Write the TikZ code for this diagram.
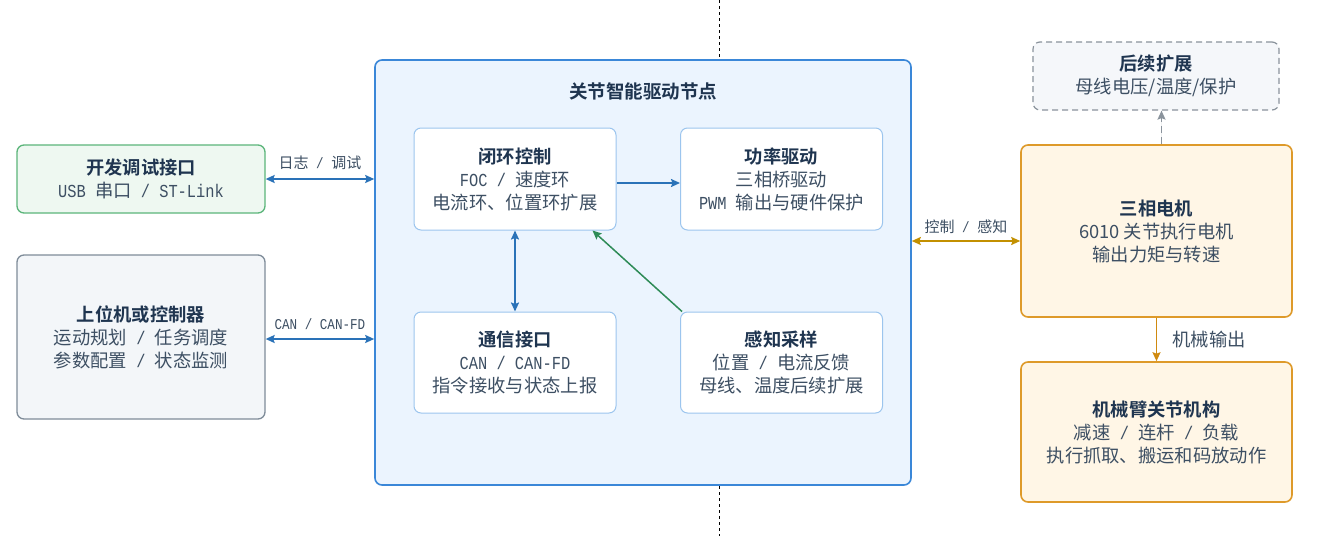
\documentclass[tikz,border=0pt]{standalone}
\usepackage{fontspec}
\setmainfont{Noto Sans CJK SC}[BoldFont={Noto Sans CJK SC Bold}]
\newfontfamily\mono{Liberation Mono}[FakeStretch=0.84]
\newcommand\mtx[1]{{\mono #1}}
\newcommand\slsep{{\mono\ /\ }}
\usetikzlibrary{arrows.meta}
\definecolor{titc}{HTML}{1F3550}
\definecolor{bodyc}{HTML}{3D4F63}
\definecolor{bluearr}{HTML}{2A72B8}
\definecolor{innerb}{HTML}{9CC5EE}
\definecolor{mainb}{HTML}{3A87D8}
\definecolor{mainf}{HTML}{EBF4FE}
\definecolor{greenb}{HTML}{5BB57A}
\definecolor{greenf}{HTML}{EEF8F1}
\definecolor{grayb}{HTML}{7F8C99}
\definecolor{grayf}{HTML}{F3F6F9}
\definecolor{orangeb}{HTML}{DE9A2A}
\definecolor{orangef}{HTML}{FFF6E6}
\definecolor{goldarr}{HTML}{C39000}
\definecolor{greenarr}{HTML}{2E8B57}
\definecolor{dashg}{HTML}{8A939C}
\definecolor{extf}{HTML}{F5F7FA}
\definecolor{motarr}{HTML}{D08A10}
\newcommand\ttl[1]{{\bfseries\color{titc}#1}}
\tikzset{
  box/.style={draw, rounded corners=7pt, line width=1.3pt, align=center, inner sep=0pt,
    font=\fontsize{18.3}{23}\selectfont, text=bodyc},
  inbox/.style={box, draw=innerb, fill=white, line width=1pt, minimum width=202pt},
  tip/.style={-{Stealth[length=9pt,width=8pt,inset=1.5pt]}},
  tips/.style={{Stealth[length=9pt,width=8pt,inset=1.5pt]}-{Stealth[length=9pt,width=8pt,inset=1.5pt]}},
  lbl/.style={font=\fontsize{15}{17}\selectfont, text=bodyc},
}
\begin{document}
\begin{tikzpicture}[x=1pt,y=-1pt]
\useasboundingbox (0,0) rectangle (1331,536);
\fill[white] (0,0) rectangle (1331,536);
% dashed divider
\coordinate (dtop) at (719,0);
\coordinate (dbot) at (719,536);
\draw[dashed, line width=0.9pt] (dtop) -- (dbot);

% left boxes
\node[box, draw=greenb, fill=greenf, minimum width=248pt, minimum height=68pt] (dbg) at (141,179)
  {\ttl{开发调试接口}\\\mtx{USB }串口\slsep{}\mtx{ST-Link}};
\node[box, draw=grayb, fill=grayf, minimum width=248pt, minimum height=164pt] (ctrl) at (141,337)
  {\ttl{上位机或控制器}\\运动规划\slsep{}任务调度\\参数配置\slsep{}状态监测};

% main box
\node[box, draw=mainb, fill=mainf, line width=1.6pt, minimum width=536pt, minimum height=425pt] (main) at (643,272.5) {};
\node[font=\fontsize{18.5}{20}\selectfont\bfseries, text=titc] (mtitle) at (643,91) {关节智能驱动节点};

\node[inbox, minimum height=102pt] (loop) at (515,179)
  {\ttl{闭环控制}\\\mtx{FOC}\slsep{}速度环\\电流环、位置环扩展};
\node[inbox, minimum height=102pt] (pwr) at (781.5,179)
  {\ttl{功率驱动}\\三相桥驱动\\\mtx{PWM }输出与硬件保护};
\node[inbox, minimum height=101pt] (comm) at (515,362.5)
  {\ttl{通信接口}\\\mtx{CAN}\slsep{}\mtx{CAN-FD}\\指令接收与状态上报};
\node[inbox, minimum height=101pt] (sense) at (781.5,362.5)
  {\ttl{感知采样}\\位置\slsep{}电流反馈\\母线、温度后续扩展};

% right boxes
\node[box, draw=dashg, fill=extf, line width=1.2pt, dash pattern=on 6pt off 4pt, minimum width=246pt, minimum height=68pt] (ext) at (1156,76)
  {\ttl{后续扩展}\\母线电压/温度/保护};
\node[box, draw=orangeb, fill=orangef, line width=1.6pt, minimum width=271pt, minimum height=172pt] (motor) at (1156.5,231)
  {\ttl{三相电机}\\6010 关节执行电机\\输出力矩与转速};
\node[box, draw=orangeb, fill=orangef, line width=1.6pt, minimum width=271pt, minimum height=140pt] (arm) at (1156.5,432)
  {\ttl{机械臂关节机构}\\减速\slsep{}连杆\slsep{}负载\\执行抓取、搬运和码放动作};

% connectors
\draw[tips, draw=bluearr, fill=bluearr, line width=1.8pt] (dbg.east) -- (dbg.east -| main.west)
  node[lbl, midway, above=5pt] {日志\slsep{}调试};
\draw[tips, draw=bluearr, fill=bluearr, line width=1.8pt] ([yshift=-2pt]ctrl.east) -- ([yshift=-2pt]ctrl.east -| main.west)
  node[lbl, midway, above=5pt] {\mtx{CAN / CAN-FD}};
\draw[tip, draw=bluearr, fill=bluearr, line width=1.8pt] ([yshift=-4pt]loop.east) -- ([yshift=-4pt]pwr.west);
\draw[tips, draw=bluearr, fill=bluearr, line width=1.8pt] (loop.south) -- (comm.north);
\draw[tip, draw=greenarr, fill=greenarr, line width=1.5pt] ([xshift=2pt]sense.north west) -- ([xshift=-24pt]loop.south east);

\coordinate (mr) at ([yshift=31.5pt]main.east);
\draw[tips, draw=goldarr, fill=goldarr, line width=2.2pt] (mr) -- (mr -| motor.west)
  node[lbl, midway, above=3pt] {控制\slsep{}感知};
\draw[tip, draw=motarr, fill=motarr, line width=1.6pt] (motor.south) -- (arm.north)
  node[lbl, midway, right=12pt, font=\fontsize{18.3}{20}\selectfont] {机械输出};
\draw[tip, draw=dashg, fill=dashg, line width=1.5pt, dash pattern=on 7pt off 4pt] ([xshift=5pt]motor.north) -- ([xshift=5pt]motor.north |- ext.south);
\end{tikzpicture}
\end{document}
